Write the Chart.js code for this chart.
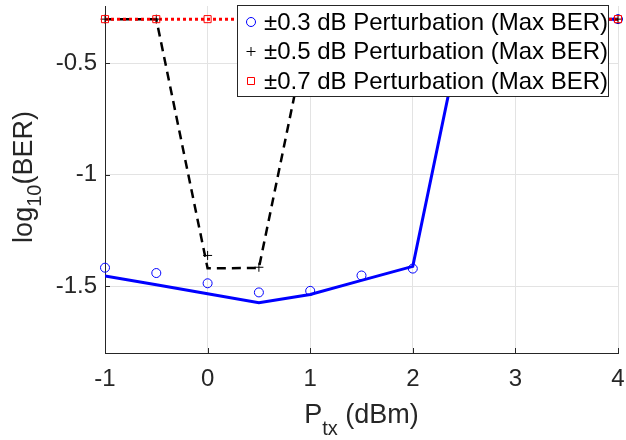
<!DOCTYPE html>
<html>
<head>
<meta charset="utf-8">
<script src="https://cdn.jsdelivr.net/npm/chart.js@4.4.1/dist/chart.umd.min.js"></script>
<style>
  html,body{margin:0;padding:0;background:#fff}
  #wrap{width:626px;height:440px}
</style>
</head>
<body>
<div id="wrap"><canvas id="chart" width="626" height="440"></canvas></div>
<script>
(function(){

  // P_tx (dBm)
  const ptx = [-1,-0.5,0,0.5,1,1.5,2,2.5,3,3.5,4];

  // log10(BER)
  const ber03Line = [-1.454,-1.494,-1.534,-1.574,-1.537,-1.474,-1.411,-0.301,-0.301,-0.301,-0.301];
  const ber03Max  = [-1.417,-1.441,-1.487,-1.528,-1.521,-1.452,-1.421,-0.301,-0.301,-0.301,-0.301];
  const ber05Line = [-0.301,-0.301,-1.420,-1.418,-0.301,-0.301,-0.301,-0.301,-0.301,-0.301,-0.301];
  const ber05Max  = [-0.301,-0.301,-1.362,-1.415,-0.301,-0.301,-0.301,-0.301,-0.301,-0.301,-0.301];
  const ber07Line = [-0.301,-0.301,-0.301,-0.301,-0.301,-0.301,-0.301,-0.301,-0.301,-0.301,-0.301];
  const ber07Max  = [-0.301,-0.301,-0.301,-0.301,-0.301,-0.301,-0.301,-0.301,-0.301,-0.301,-0.301];

  const xTicks = [-1,0,1,2,3,4];
  const yTicks = [-1.5,-1,-0.5];
  const legendLabels = [
    '±0.3 dB Perturbation (Max BER)',
    '±0.5 dB Perturbation (Max BER)',
    '±0.7 dB Perturbation (Max BER)'
  ];

  const FONT = '"Liberation Sans", Arial, Helvetica, sans-serif';
  const AXIS = '#262626';

  const pts = ys => ys.map((v,i) => ({x:ptx[i], y:v}));

  function drawMarker(ctx, kind, x, y){
    ctx.lineWidth = 1;
    ctx.beginPath();
    if(kind === 'circle'){
      ctx.strokeStyle = '#0000ff';
      ctx.arc(x, y, 4.5, 0, Math.PI*2);
    } else if(kind === 'cross'){
      ctx.strokeStyle = '#000';
      ctx.moveTo(x-4.5, y); ctx.lineTo(x+4.5, y);
      ctx.moveTo(x, y-4.5); ctx.lineTo(x, y+4.5);
    } else {
      ctx.strokeStyle = '#ff0000';
      ctx.rect(x-3.5, y-3.5, 7, 7);
    }
    ctx.stroke();
  }

  const extras = {
    id:'extras',
    afterDraw(chart){
      const {ctx, chartArea:a, scales:{x, y}} = chart;
      ctx.save();

      // inward tick marks
      ctx.strokeStyle = AXIS; ctx.lineWidth = 1;
      ctx.beginPath();
      xTicks.forEach(v => {
        const px = Math.round(x.getPixelForValue(v)) + 0.5;
        ctx.moveTo(px, a.bottom); ctx.lineTo(px, a.bottom - 5);
      });
      yTicks.forEach(v => {
        const py = Math.round(y.getPixelForValue(v)) + 0.5;
        ctx.moveTo(a.left, py); ctx.lineTo(a.left + 5, py);
      });
      ctx.stroke();

      // x title  P_tx (dBm)
      ctx.fillStyle = AXIS;
      ctx.textBaseline = 'alphabetic';
      ctx.textAlign = 'left';
      const big = '27px ' + FONT, small = '20px ' + FONT;
      ctx.font = big;  const wP = ctx.measureText('P').width, wU = ctx.measureText(' (dBm)').width;
      ctx.font = small; const wS = ctx.measureText('tx').width;
      let sx = (a.left + a.right)/2 - (wP + wS + wU)/2;
      const base = 423;
      ctx.font = big;   ctx.fillText('P', sx, base); sx += wP;
      ctx.font = small; ctx.fillText('tx', sx, base + 12); sx += wS;
      ctx.font = big;   ctx.fillText(' (dBm)', sx, base);

      // y title  log_10(BER)
      ctx.save();
      ctx.translate(32, 177);
      ctx.rotate(-Math.PI/2);
      ctx.font = big;   const wl = ctx.measureText('log').width, wb = ctx.measureText('(BER)').width;
      ctx.font = small; const wt = ctx.measureText('10').width;
      let tx = -(wl + wt + wb)/2;
      ctx.font = big;   ctx.fillText('log', tx, 0); tx += wl;
      ctx.font = small; ctx.fillText('10', tx, 9); tx += wt;
      ctx.font = big;   ctx.fillText('(BER)', tx, 0);
      ctx.restore();

      // legend box
      const bx = 237.5, by = 5.5, bw = 371, bh = 91;
      ctx.fillStyle = '#fff';
      ctx.fillRect(bx, by, bw, bh);
      ctx.strokeStyle = AXIS; ctx.lineWidth = 1;
      ctx.strokeRect(bx, by, bw, bh);
      const kinds = ['circle','cross','rect'];
      const rows = [22, 51.5, 81];
      ctx.font = '24px ' + FONT;
      ctx.textBaseline = 'middle';
      legendLabels.forEach((t,i) => {
        drawMarker(ctx, kinds[i], 251, rows[i]);
        ctx.fillStyle = '#000';
        ctx.fillText(t, 264, rows[i] + 1);
      });

      ctx.restore();
    }
  };

  const tickFont = { family:FONT, size:24 };

  new Chart(document.getElementById('chart'), {
    type:'line',
    data:{
      datasets:[{
        label:'line03', data:pts(ber03Line), order:6,
        borderColor:'#0000ff', borderWidth:3, pointRadius:0, fill:false
      },{
        label:'line05', data:pts(ber05Line), order:5,
        borderColor:'#000000', borderWidth:2.5, borderDash:[9,6], pointRadius:0, fill:false
      },{
        label:'line07', data:pts(ber07Line), order:4,
        borderColor:'#ff0000', borderWidth:3, borderDash:[3,3], pointRadius:0, fill:false
      },{
        label:legendLabels[0], data:pts(ber03Max), order:3, showLine:false, clip:false,
        pointStyle:'circle', pointRadius:4.5, pointBorderWidth:1,
        pointBorderColor:'#0000ff', pointBackgroundColor:'rgba(0,0,0,0)'
      },{
        label:legendLabels[1], data:pts(ber05Max), order:2, showLine:false, clip:false,
        pointStyle:'cross', pointRadius:4.5, pointBorderWidth:1,
        pointBorderColor:'#000000', pointBackgroundColor:'rgba(0,0,0,0)'
      },{
        label:legendLabels[2], data:pts(ber07Max), order:1, showLine:false, clip:false,
        pointStyle:'rect', pointRadius:5, pointBorderWidth:1,
        pointBorderColor:'#ff0000', pointBackgroundColor:'rgba(0,0,0,0)'
      }]
    },
    options:{
      responsive:false, animation:false,
      layout:{ padding:{ left:0, right:8, top:0, bottom:0 } },
      plugins:{ legend:{ display:false }, tooltip:{ enabled:false } },
      scales:{
        x:{
          type:'linear', min:-1, max:4,
          afterBuildTicks:s => { s.ticks = xTicks.map(v => ({value:v})); },
          afterFit:s => { s.height = 87; s.paddingLeft = 0; s.paddingRight = 0; },
          grid:{ color:'#e3e3e3', drawTicks:false },
          border:{ display:true, color:AXIS, width:1 },
          ticks:{ font:tickFont, color:AXIS, padding:12, callback:v => String(v) }
        },
        y:{
          type:'linear', min:-1.8, max:-0.242,
          afterBuildTicks:s => { s.ticks = yTicks.map(v => ({value:v})); },
          afterFit:s => { s.width = 105; s.paddingTop = 0; s.paddingBottom = 0; },
          grid:{ color:'#e3e3e3', drawTicks:false },
          border:{ display:true, color:AXIS, width:1 },
          ticks:{ font:tickFont, color:AXIS, padding:8, callback:v => String(v) }
        }
      }
    },
    plugins:[extras]
  });

})();
</script>
</body>
</html>
